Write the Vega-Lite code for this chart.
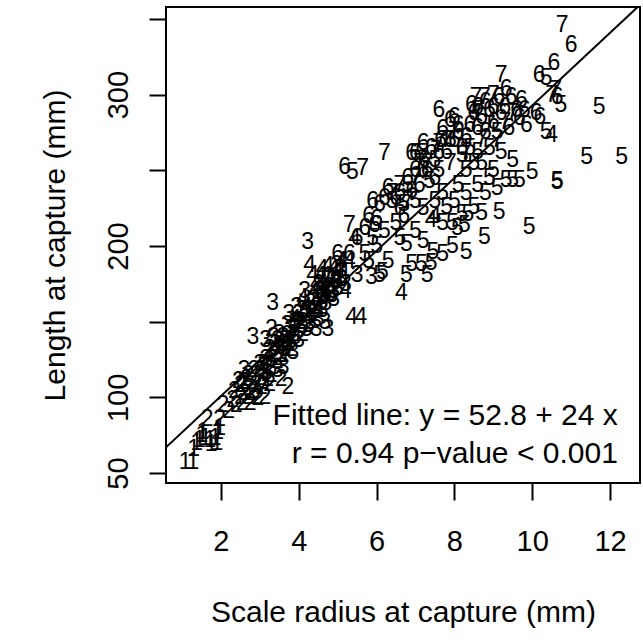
{
  "$schema": "https://vega.github.io/schema/vega-lite/v6.json",
  "width": 474,
  "height": 476,
  "autosize": {"type": "none"},
  "padding": {"left": 166, "top": 7, "right": 3, "bottom": 159},
  "background": "white",
  "config": {
    "font": "Liberation Sans",
    "view": {"stroke": "black", "strokeWidth": 2},
    "axis": {"grid": false, "domain": false, "tickColor": "black", "tickWidth": 2, "tickSize": 17, "labelColor": "black", "titleColor": "black", "labelFont": "Liberation Sans", "titleFont": "Liberation Sans", "labelFontSize": 29, "titleFontSize": 30, "titleFontWeight": "normal"}
  },
  "datasets": {
    "fish": [
      {"r":1.08,"l":57,"a":1},{"r":1.28,"l":57,"a":1},{"r":1.3,"l":66,"a":1},{"r":1.38,"l":70,"a":1},{"r":1.45,"l":72,"a":1},{"r":1.51,"l":75,"a":1},{"r":1.54,"l":77,"a":1},{"r":1.6,"l":73,"a":1},{"r":1.72,"l":72,"a":1},{"r":1.75,"l":69,"a":1},{"r":1.85,"l":73,"a":1},{"r":1.9,"l":70,"a":1},{"r":1.92,"l":77,"a":1},{"r":1.97,"l":80,"a":1},
      {"r":1.65,"l":86,"a":2},{"r":1.97,"l":86,"a":2},{"r":2.2,"l":91,"a":2},{"r":2.05,"l":95,"a":2},{"r":2.3,"l":98,"a":2},{"r":2.4,"l":95,"a":2},{"r":2.5,"l":100,"a":2},{"r":2.35,"l":104,"a":2},{"r":2.6,"l":103,"a":2},{"r":2.55,"l":108,"a":2},{"r":2.7,"l":106,"a":2},{"r":2.8,"l":110,"a":2},{"r":2.65,"l":112,"a":2},{"r":2.9,"l":100,"a":2},{"r":2.95,"l":99.6,"a":2},{"r":3.13,"l":100,"a":2},{"r":3.72,"l":107,"a":2},{"r":3.0,"l":113,"a":2},{"r":3.1,"l":117,"a":2},{"r":2.85,"l":118,"a":2},{"r":3.2,"l":121,"a":2},{"r":3.3,"l":115,"a":2},{"r":3.15,"l":125,"a":2},{"r":3.4,"l":128,"a":2},{"r":3.5,"l":126,"a":2},{"r":3.25,"l":132,"a":2},{"r":3.6,"l":135,"a":2},{"r":3.45,"l":138,"a":2},{"r":3.7,"l":141,"a":2},{"r":3.8,"l":132,"a":2},{"r":3.9,"l":145,"a":2},{"r":4.0,"l":150,"a":2},{"r":4.1,"l":142,"a":2},{"r":3.3,"l":145,"a":2},{"r":4.2,"l":155,"a":2},{"r":4.45,"l":160,"a":2},{"r":4.97,"l":187.5,"a":2},{"r":4.6,"l":166,"a":2},{"r":3.55,"l":112,"a":2},{"r":2.75,"l":96,"a":2},{"r":2.45,"l":111,"a":2},{"r":3.05,"l":107,"a":2},
      {"r":2.5,"l":108,"a":2},{"r":2.6,"l":110,"a":2},{"r":2.7,"l":115,"a":2},{"r":2.8,"l":103,"a":2},{"r":2.9,"l":108,"a":2},{"r":3.0,"l":118,"a":2},{"r":3.1,"l":122,"a":2},{"r":3.2,"l":112,"a":2},{"r":3.3,"l":120,"a":2},{"r":3.35,"l":128,"a":2},{"r":3.45,"l":124,"a":2},{"r":3.6,"l":128,"a":2},{"r":3.65,"l":138,"a":2},{"r":3.75,"l":136,"a":2},{"r":3.85,"l":142,"a":2},{"r":3.95,"l":148,"a":2},{"r":2.55,"l":96,"a":2},{"r":2.65,"l":100,"a":2},{"r":2.85,"l":104,"a":2},{"r":3.25,"l":109,"a":2},
      {"r":2.82,"l":140,"a":3},{"r":3.33,"l":162,"a":3},{"r":3.6,"l":120,"a":3},{"r":3.85,"l":130,"a":3},{"r":4.23,"l":202.7,"a":3},{"r":5.87,"l":179.5,"a":3},{"r":5.5,"l":181,"a":3},{"r":4.5,"l":175,"a":3},{"r":4.1,"l":158,"a":3},{"r":4.4,"l":165,"a":3},{"r":3.0,"l":122,"a":3},{"r":3.2,"l":130,"a":3},{"r":3.4,"l":135,"a":3},{"r":3.5,"l":142,"a":3},{"r":3.7,"l":148,"a":3},{"r":3.9,"l":140,"a":3},{"r":4.0,"l":138,"a":3},{"r":4.2,"l":145,"a":3},{"r":4.3,"l":150,"a":3},{"r":4.5,"l":152,"a":3},{"r":4.6,"l":158,"a":3},{"r":4.7,"l":162,"a":3},{"r":4.8,"l":168,"a":3},{"r":4.9,"l":170,"a":3},{"r":5.0,"l":172,"a":3},{"r":3.75,"l":155,"a":3},{"r":3.95,"l":160,"a":3},{"r":4.15,"l":170,"a":3},{"r":3.1,"l":110,"a":3},{"r":3.3,"l":125,"a":3},{"r":3.55,"l":128,"a":3},{"r":3.8,"l":137,"a":3},{"r":4.05,"l":147,"a":3},{"r":4.35,"l":156,"a":3},{"r":4.67,"l":150,"a":3},{"r":4.85,"l":167.6,"a":3},{"r":2.9,"l":115,"a":3},{"r":3.45,"l":118,"a":3},{"r":3.65,"l":132,"a":3},{"r":4.25,"l":148,"a":3},{"r":4.55,"l":170,"a":3},{"r":5.1,"l":178,"a":3},{"r":5.2,"l":175,"a":3},{"r":4.75,"l":145,"a":3},{"r":2.6,"l":118,"a":3},{"r":3.15,"l":138,"a":3},
      {"r":3.6,"l":140,"a":3},{"r":3.7,"l":135,"a":3},{"r":3.8,"l":145,"a":3},{"r":3.9,"l":150,"a":3},{"r":4.0,"l":155,"a":3},{"r":4.1,"l":150,"a":3},{"r":4.2,"l":157,"a":3},{"r":4.3,"l":162,"a":3},{"r":4.4,"l":158,"a":3},{"r":4.5,"l":165,"a":3},{"r":4.6,"l":163,"a":3},{"r":4.7,"l":170,"a":3},{"r":4.8,"l":173,"a":3},{"r":4.9,"l":165,"a":3},{"r":3.35,"l":140,"a":3},{"r":3.5,"l":133,"a":3},{"r":4.45,"l":145,"a":3},{"r":4.95,"l":176,"a":3},
      {"r":5.36,"l":153,"a":4},{"r":5.6,"l":153,"a":4},{"r":4.28,"l":187.5,"a":4},{"r":4.36,"l":181,"a":4},{"r":5.44,"l":205,"a":4},{"r":6.64,"l":169,"a":4},{"r":7.4,"l":217,"a":4},{"r":7.5,"l":220,"a":4},{"r":10.5,"l":273,"a":4},{"r":4.4,"l":170,"a":4},{"r":4.6,"l":175,"a":4},{"r":4.8,"l":178,"a":4},{"r":5.0,"l":182,"a":4},{"r":4.5,"l":160,"a":4},{"r":4.7,"l":168,"a":4},{"r":4.2,"l":160,"a":4},{"r":4.9,"l":185,"a":4},{"r":5.1,"l":190,"a":4},{"r":3.9,"l":152,"a":4},{"r":4.1,"l":165,"a":4},{"r":4.55,"l":180,"a":4},{"r":5.3,"l":190,"a":4},{"r":4.65,"l":172,"a":4},{"r":5.2,"l":170,"a":4},
      {"r":4.45,"l":175,"a":4},{"r":4.7,"l":180,"a":4},{"r":4.85,"l":175,"a":4},{"r":4.95,"l":178,"a":4},{"r":5.05,"l":185,"a":4},{"r":4.75,"l":187,"a":4},{"r":4.6,"l":185,"a":4},{"r":5.15,"l":182,"a":4},
      {"r":5.38,"l":249,"a":5},{"r":6.77,"l":181,"a":5},{"r":7.3,"l":181,"a":5},{"r":6.08,"l":181,"a":5},{"r":6.9,"l":188,"a":5},{"r":7.15,"l":188,"a":5},{"r":7.4,"l":189,"a":5},{"r":7.45,"l":196,"a":5},{"r":7.7,"l":195,"a":5},{"r":6.77,"l":201,"a":5},{"r":7.95,"l":215,"a":5},{"r":7.7,"l":215,"a":5},{"r":8.26,"l":214,"a":5},{"r":8.2,"l":221,"a":5},{"r":8.35,"l":221,"a":5},{"r":8.3,"l":196,"a":5},{"r":7.95,"l":200,"a":5},{"r":9.5,"l":257,"a":5},{"r":11.4,"l":259,"a":5},{"r":12.3,"l":259,"a":5},{"r":9.33,"l":243.6,"a":5},{"r":9.5,"l":243.6,"a":5},{"r":9.67,"l":243.6,"a":5},{"r":10.0,"l":249,"a":5},{"r":10.64,"l":242,"a":5},{"r":10.64,"l":243,"a":5},{"r":8.3,"l":235,"a":5},{"r":8.8,"l":235,"a":5},{"r":10.74,"l":293,"a":5},{"r":11.72,"l":292,"a":5},{"r":10.36,"l":311,"a":5},{"r":10.36,"l":275,"a":5},{"r":7.15,"l":261.5,"a":5},{"r":7.5,"l":257,"a":5},{"r":7.36,"l":243,"a":5},{"r":6.4,"l":230,"a":5},{"r":6.5,"l":215,"a":5},{"r":6.2,"l":210,"a":5},{"r":5.9,"l":205,"a":5},{"r":6.0,"l":200,"a":5},{"r":6.6,"l":205,"a":5},{"r":7.0,"l":210,"a":5},{"r":7.2,"l":203,"a":5},{"r":6.3,"l":190,"a":5},{"r":5.7,"l":195,"a":5},{"r":8.6,"l":240,"a":5},{"r":8.9,"l":245,"a":5},{"r":9.0,"l":250,"a":5},{"r":8.7,"l":255,"a":5},{"r":8.9,"l":265,"a":5},{"r":9.1,"l":275,"a":5},{"r":8.4,"l":265,"a":5},{"r":8.0,"l":230,"a":5},{"r":7.8,"l":226,"a":5},{"r":8.5,"l":226,"a":5},{"r":8.7,"l":222,"a":5},{"r":9.1,"l":238,"a":5},{"r":6.8,"l":240,"a":5},{"r":7.6,"l":250,"a":5},{"r":7.9,"l":270,"a":5},{"r":8.2,"l":260,"a":5},{"r":5.8,"l":190,"a":5},{"r":6.15,"l":183,"a":5},{"r":9.92,"l":212.6,"a":5},{"r":9.15,"l":222.5,"a":5},{"r":8.77,"l":206,"a":5},{"r":8.08,"l":212,"a":5},
      {"r":7.5,"l":230,"a":5},{"r":7.7,"l":235,"a":5},{"r":8.1,"l":240,"a":5},{"r":8.3,"l":250,"a":5},{"r":8.5,"l":255,"a":5},{"r":8.6,"l":262,"a":5},{"r":7.2,"l":225,"a":5},{"r":7.0,"l":230,"a":5},{"r":6.7,"l":228,"a":5},{"r":9.2,"l":262,"a":5},
      {"r":11.0,"l":333,"a":6},{"r":10.56,"l":321,"a":6},{"r":10.18,"l":313,"a":6},{"r":9.33,"l":304,"a":6},{"r":9.15,"l":298.5,"a":6},{"r":9.46,"l":298.5,"a":6},{"r":9.72,"l":296.5,"a":6},{"r":10.64,"l":298.5,"a":6},{"r":7.6,"l":290,"a":6},{"r":8.0,"l":285,"a":6},{"r":10.1,"l":288,"a":6},{"r":9.67,"l":284.6,"a":6},{"r":9.85,"l":280,"a":6},{"r":6.9,"l":261.5,"a":6},{"r":5.18,"l":252,"a":6},{"r":7.0,"l":261.5,"a":6},{"r":7.23,"l":257,"a":6},{"r":8.44,"l":293,"a":6},{"r":7.65,"l":270,"a":6},{"r":8.0,"l":270,"a":6},{"r":5.9,"l":230,"a":6},{"r":6.2,"l":232,"a":6},{"r":6.08,"l":228,"a":6},{"r":5.7,"l":212,"a":6},{"r":5.95,"l":214,"a":6},{"r":5.0,"l":195,"a":6},{"r":5.3,"l":195,"a":6},{"r":8.7,"l":285,"a":6},{"r":8.9,"l":290,"a":6},{"r":8.6,"l":278,"a":6},{"r":8.8,"l":275,"a":6},{"r":9.0,"l":282,"a":6},{"r":9.2,"l":288,"a":6},{"r":8.3,"l":272,"a":6},{"r":8.2,"l":265,"a":6},{"r":7.8,"l":262,"a":6},{"r":7.3,"l":250,"a":6},{"r":7.5,"l":245,"a":6},{"r":7.1,"l":240,"a":6},{"r":6.9,"l":236,"a":6},{"r":6.5,"l":232,"a":6},{"r":6.6,"l":225,"a":6},{"r":6.7,"l":220,"a":6},{"r":5.8,"l":220,"a":6},{"r":6.0,"l":218,"a":6},{"r":5.5,"l":205,"a":6},{"r":7.9,"l":283,"a":6},{"r":8.4,"l":280,"a":6},{"r":7.7,"l":277,"a":6},{"r":9.8,"l":290,"a":6},{"r":10.2,"l":285,"a":6},{"r":9.4,"l":278,"a":6},{"r":6.3,"l":238,"a":6},{"r":7.2,"l":268,"a":6},
      {"r":7.4,"l":265,"a":6},{"r":7.6,"l":262,"a":6},{"r":8.1,"l":275,"a":6},{"r":8.5,"l":288,"a":6},{"r":8.8,"l":295,"a":6},{"r":9.0,"l":292,"a":6},{"r":8.1,"l":280,"a":6},{"r":7.2,"l":250,"a":6},{"r":6.8,"l":245,"a":6},{"r":6.6,"l":235,"a":6},{"r":7.0,"l":250,"a":6},{"r":8.6,"l":292,"a":6},{"r":9.3,"l":292,"a":6},{"r":9.6,"l":290,"a":6},
      {"r":10.77,"l":346,"a":7},{"r":9.2,"l":313,"a":7},{"r":8.56,"l":298.5,"a":7},{"r":8.77,"l":298.5,"a":7},{"r":10.6,"l":303,"a":7},{"r":9.5,"l":288,"a":7},{"r":6.2,"l":261.5,"a":7},{"r":5.64,"l":251.6,"a":7},{"r":7.54,"l":263.5,"a":7},{"r":8.3,"l":262,"a":7},{"r":6.4,"l":235,"a":7},{"r":5.3,"l":214,"a":7},{"r":8.9,"l":280,"a":7},{"r":8.7,"l":270,"a":7},{"r":9.1,"l":270,"a":7},{"r":7.3,"l":255,"a":7},{"r":7.0,"l":245,"a":7},{"r":6.8,"l":230,"a":7},{"r":8.5,"l":282,"a":7},{"r":9.3,"l":282,"a":7},{"r":7.9,"l":255,"a":7},{"r":6.6,"l":240,"a":7},{"r":10.5,"l":300,"a":7},
      {"r":7.6,"l":268,"a":7},{"r":8.0,"l":276,"a":7},{"r":8.6,"l":290,"a":7},{"r":9.0,"l":300,"a":7},{"r":7.1,"l":255,"a":7},{"r":7.8,"l":270,"a":7}
    ],
    "fit": [{"x1":0.59,"y1":66.96,"x2":12.71,"y2":357.9}],
    "notes": [
      {"x":12.2,"y":87.5,"t":"Fitted line: y = 52.8 + 24 x"},
      {"x":12.2,"y":62.6,"t":"r = 0.94 p\u2212value < 0.001"}
    ]
  },
  "layer": [
    {
      "data": {"name": "fish"},
      "mark": {"type": "text", "fontSize": 23, "font": "Liberation Sans", "align": "center", "baseline": "middle", "color": "black"},
      "encoding": {
        "x": {"field": "r", "type": "quantitative", "scale": {"domain": [0.59, 12.77], "nice": false, "zero": false},
              "axis": {"values": [2,4,6,8,10,12], "title": "Scale radius at capture (mm)", "labelBaseline": "middle", "labelPadding": 41, "titleY": 129, "titleBaseline": "middle"}},
        "y": {"field": "l", "type": "quantitative", "scale": {"domain": [43.4, 357.9], "nice": false, "zero": false},
              "axis": {"values": [50,100,150,200,250,300,350], "labelExpr": "(datum.value == 150 || datum.value == 250 || datum.value == 350) ? '' : datum.label", "labelAngle": -90, "labelAlign": "center", "labelBaseline": "middle", "labelPadding": 31, "title": "Length at capture (mm)", "titleAngle": -90, "titleX": -111, "titleY": 238, "titleBaseline": "middle", "titleAlign": "center"}},
        "text": {"field": "a", "type": "nominal"}
      }
    },
    {
      "data": {"name": "fit"},
      "mark": {"type": "rule", "color": "black", "strokeWidth": 2, "clip": true},
      "encoding": {
        "x": {"field": "x1", "type": "quantitative"},
        "y": {"field": "y1", "type": "quantitative"},
        "x2": {"field": "x2"},
        "y2": {"field": "y2"}
      }
    },
    {
      "data": {"name": "notes"},
      "mark": {"type": "text", "fontSize": 30, "font": "Liberation Sans", "align": "right", "baseline": "middle", "color": "black"},
      "encoding": {
        "x": {"field": "x", "type": "quantitative"},
        "y": {"field": "y", "type": "quantitative"},
        "text": {"field": "t", "type": "nominal"}
      }
    }
  ]
}
